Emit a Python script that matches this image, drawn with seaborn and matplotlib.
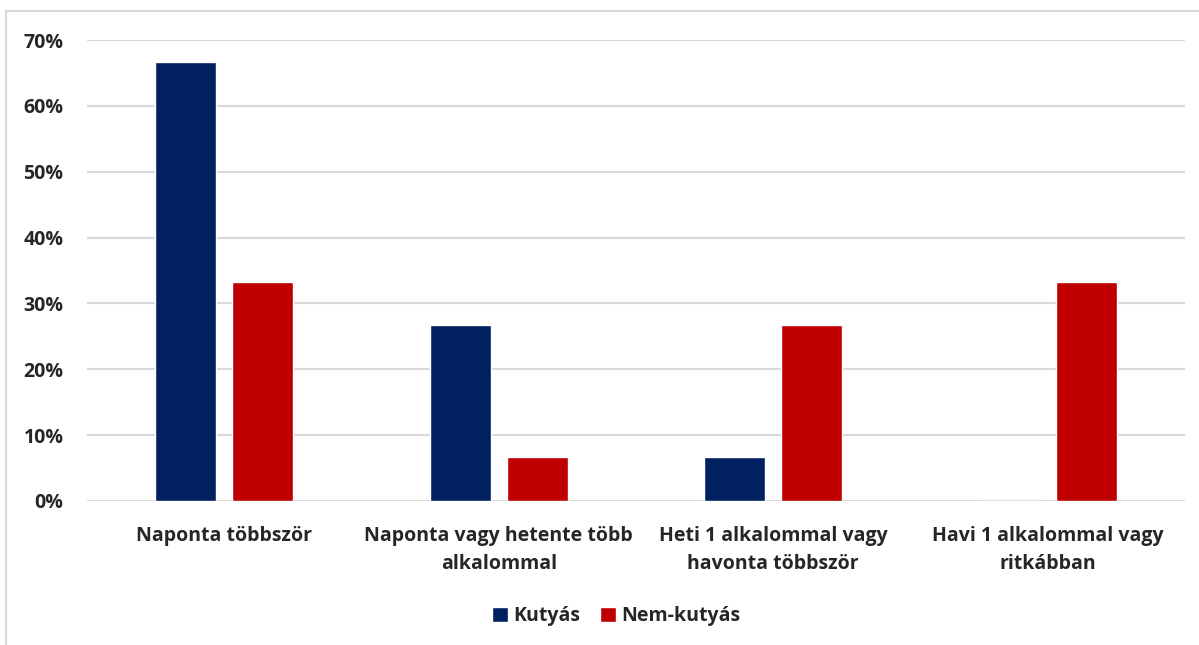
"""Kutyás vs nem-kutyás gyakorisági oszlopdiagram (Excel-stílus)."""

import matplotlib
matplotlib.use("Agg")
import matplotlib.pyplot as plt
from matplotlib.patches import Rectangle
from matplotlib.ticker import PercentFormatter
import pandas as pd
import seaborn as sns

CATEGORIES = ["Naponta többször", "Naponta vagy hetente több\nalkalommal",
              "Heti 1 alkalommal vagy\nhavonta többször", "Havi 1 alkalommal vagy\nritkábban"]
GROUPS = ["Kutyás", "Nem-kutyás"]
KUTYAS = [0.667, 0.267, 0.067, 0.0]
NEM_KUTYAS = [0.333, 0.067, 0.267, 0.333]
YTICKS = [0, 0.1, 0.2, 0.3, 0.4, 0.5, 0.6, 0.7]

NAVY, RED, GRID = "#002060", "#C00000", "#d9d9d9"

df = pd.DataFrame({"cat": CATEGORIES * 2,
                   "group": [GROUPS[0]] * 4 + [GROUPS[1]] * 4,
                   "value": KUTYAS + NEM_KUTYAS})

sns.set_theme(style="white")
plt.rcParams["font.family"] = ["Open Sans", "DejaVu Sans"]
plt.rcParams["font.weight"] = "bold"

fig = plt.figure(figsize=(11.99, 6.45), dpi=100)
ax = fig.add_axes([87 / 1199, 144 / 645, 1098 / 1199, 461 / 645])

sns.barplot(data=df, x="cat", y="value", hue="group", palette=[NAVY, RED],
            width=0.56, gap=0.21, saturation=1, ax=ax, legend=True)

ax.set_ylim(0, 0.7); ax.set_xlim(-0.5, 3.5)
ax.set_yticks(YTICKS)
ax.yaxis.set_major_formatter(PercentFormatter(1.0, decimals=0))
ax.grid(axis="y", color=GRID, lw=1.5); ax.set_axisbelow(True)
for s in ax.spines.values(): s.set_visible(False)
ax.tick_params(axis="y", length=0, pad=17, labelsize=14)
ax.tick_params(axis="x", length=0, pad=18, labelsize=14)
ax.set_xlabel(""); ax.set_ylabel("")
for t in ax.get_xticklabels() + ax.get_yticklabels():
    t.set_fontweight("bold")
for t in ax.get_xticklabels():
    t.set_linespacing(1.55)

h, l = ax.get_legend_handles_labels()
ax.get_legend().remove()
fig.legend(h, l, loc="center", bbox_to_anchor=(0.514, 29 / 645), ncol=2, frameon=False,
           prop={"size": 14, "weight": "bold"}, handlelength=0.8, handleheight=0.8,
           handletextpad=0.3, columnspacing=1.0)

fig.patches.append(Rectangle((6 / 1199, -0.1), 1.1, 1.1 - 11 / 645, transform=fig.transFigure,
                             fill=False, edgecolor=GRID, lw=1.5))

fig.savefig("out.png", dpi=100)
